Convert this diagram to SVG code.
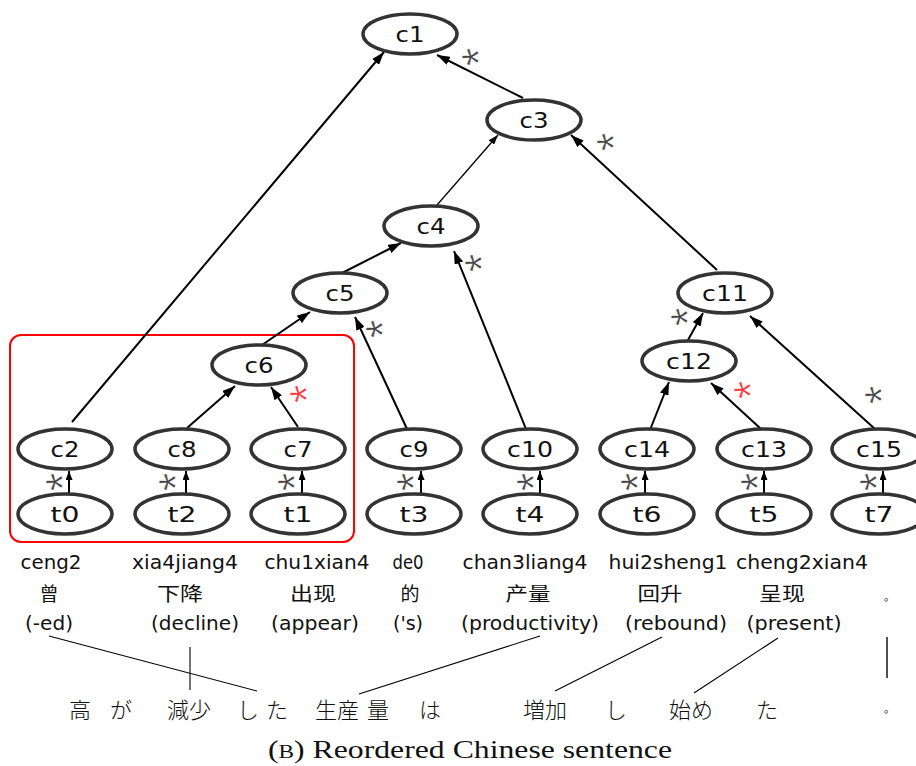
<svg xmlns="http://www.w3.org/2000/svg" width="916" height="766" viewBox="0 0 916 766">
<defs>
<style>
.n ellipse{fill:#fff;stroke:#333;stroke-width:3.5}
.n text{font-family:"DejaVu Sans",sans-serif;font-size:22px;text-anchor:middle;fill:#111}
.e line{stroke:#000;stroke-width:2;marker-end:url(#ah)}
.e line.thin{stroke-width:1.3;marker-end:url(#ahs)}
.e line.up{stroke-width:2;marker-end:url(#ahu)}
.st{font-family:"Liberation Sans",sans-serif;font-size:48px;fill:#444;text-anchor:middle;stroke:#fff;stroke-width:0.7}
.st.r{fill:#f33}
.py{font-family:"DejaVu Sans",sans-serif;font-size:19px;text-anchor:middle;fill:#111}
.zh{font-family:"Noto Sans CJK SC","Noto Sans CJK JP",sans-serif;font-size:19px;text-anchor:middle;fill:#111}
.ja{font-family:"Noto Sans CJK JP",sans-serif;font-size:22px;text-anchor:middle;fill:#111;font-weight:300}
.al line{stroke:#000;stroke-width:1.1}
</style>
<marker id="ah" markerWidth="13" markerHeight="9" refX="13" refY="4.5" orient="auto" markerUnits="userSpaceOnUse"><path d="M0,0 L13,4.5 L0,9 z" fill="#000"/></marker>
<marker id="ahs" markerWidth="10" markerHeight="7" refX="10" refY="3.5" orient="auto" markerUnits="userSpaceOnUse"><path d="M0,0 L10,3.5 L0,7 z" fill="#000"/></marker>
<marker id="ahu" markerWidth="9" markerHeight="7" refX="9" refY="3.5" orient="auto" markerUnits="userSpaceOnUse"><path d="M0,0 L9,3.5 L0,7 z" fill="#000"/></marker>
</defs>
<rect width="916" height="766" fill="#fff"/>
<rect x="10" y="335" width="344" height="207" rx="11" fill="none" stroke="#f00" stroke-width="2"/>
<g id="stars">
<text class="st" transform="translate(495,57) rotate(-90)">*</text>
<text class="st" transform="translate(630,142) rotate(-90)">*</text>
<text class="st" transform="translate(498,263) rotate(-90)">*</text>
<text class="st" transform="translate(399,329) rotate(-90)">*</text>
<text class="st r" transform="translate(323,394) rotate(-90)">*</text>
<text class="st" transform="translate(704,317) rotate(-90)">*</text>
<text class="st r" transform="translate(767,390) rotate(-90)">*</text>
<text class="st" transform="translate(898,395) rotate(-90)">*</text>
<text class="st" transform="translate(79,482) rotate(-90)">*</text>
<text class="st" transform="translate(192,482) rotate(-90)">*</text>
<text class="st" transform="translate(311,482) rotate(-90)">*</text>
<text class="st" transform="translate(430,482) rotate(-90)">*</text>
<text class="st" transform="translate(550,482) rotate(-90)">*</text>
<text class="st" transform="translate(654,482) rotate(-90)">*</text>
<text class="st" transform="translate(774,482) rotate(-90)">*</text>
<text class="st" transform="translate(893,482) rotate(-90)">*</text>
</g>
<g id="connectors" class="e">
<line x1="72" y1="422" x2="384" y2="52"/>
<line x1="523" y1="98" x2="437" y2="55"/>
<line class="thin" x1="437" y1="205" x2="498" y2="135"/>
<line x1="717" y1="270" x2="571" y2="135"/>
<line x1="342" y1="273" x2="401" y2="243"/>
<line x1="526" y1="429" x2="454" y2="251"/>
<line x1="262" y1="345" x2="310" y2="312"/>
<line x1="407" y1="429" x2="355" y2="317"/>
<line x1="187" y1="428" x2="235" y2="386"/>
<line x1="298" y1="427" x2="271" y2="387"/>
<line x1="688" y1="340" x2="703" y2="313"/>
<line x1="650" y1="430" x2="669" y2="382"/>
<line x1="761" y1="429" x2="711" y2="383"/>
<line x1="875" y1="429" x2="750" y2="316"/>
<line class="up" x1="69" y1="493" x2="69" y2="471"/>
<line class="up" x1="186" y1="493" x2="186" y2="471"/>
<line class="up" x1="302" y1="493" x2="302" y2="471"/>
<line class="up" x1="421" y1="493" x2="421" y2="471"/>
<line class="up" x1="540" y1="493" x2="540" y2="471"/>
<line class="up" x1="645" y1="493" x2="645" y2="471"/>
<line class="up" x1="764" y1="493" x2="764" y2="471"/>
<line class="up" x1="883" y1="493" x2="883" y2="471"/>
</g>
<g id="c1" class="n"><ellipse cx="410" cy="34" rx="47" ry="20"/><text x="410" y="42" textLength="29" lengthAdjust="spacingAndGlyphs">c1</text></g>
<g id="c3" class="n"><ellipse cx="534" cy="120" rx="47" ry="20"/><text x="534" y="128" textLength="29" lengthAdjust="spacingAndGlyphs">c3</text></g>
<g id="c4" class="n"><ellipse cx="431" cy="226" rx="47" ry="20"/><text x="431" y="234" textLength="29" lengthAdjust="spacingAndGlyphs">c4</text></g>
<g id="c5" class="n"><ellipse cx="340" cy="293" rx="47" ry="20"/><text x="340" y="301" textLength="29" lengthAdjust="spacingAndGlyphs">c5</text></g>
<g id="c6" class="n"><ellipse cx="259" cy="365" rx="47" ry="20"/><text x="259" y="373" textLength="29" lengthAdjust="spacingAndGlyphs">c6</text></g>
<g id="c11" class="n"><ellipse cx="725" cy="293" rx="47" ry="20"/><text x="725" y="301" textLength="46" lengthAdjust="spacingAndGlyphs">c11</text></g>
<g id="c12" class="n"><ellipse cx="689" cy="361" rx="47" ry="20"/><text x="689" y="369" textLength="46" lengthAdjust="spacingAndGlyphs">c12</text></g>
<g id="c2" class="n"><ellipse cx="65" cy="449" rx="47" ry="20"/><text x="65" y="457" textLength="29" lengthAdjust="spacingAndGlyphs">c2</text></g>
<g id="c8" class="n"><ellipse cx="182" cy="449" rx="47" ry="20"/><text x="182" y="457" textLength="29" lengthAdjust="spacingAndGlyphs">c8</text></g>
<g id="c7" class="n"><ellipse cx="298" cy="449" rx="47" ry="20"/><text x="298" y="457" textLength="29" lengthAdjust="spacingAndGlyphs">c7</text></g>
<g id="c9" class="n"><ellipse cx="414" cy="449" rx="47" ry="20"/><text x="414" y="457" textLength="29" lengthAdjust="spacingAndGlyphs">c9</text></g>
<g id="c10" class="n"><ellipse cx="530" cy="449" rx="47" ry="20"/><text x="530" y="457" textLength="46" lengthAdjust="spacingAndGlyphs">c10</text></g>
<g id="c14" class="n"><ellipse cx="647" cy="449" rx="47" ry="20"/><text x="647" y="457" textLength="46" lengthAdjust="spacingAndGlyphs">c14</text></g>
<g id="c13" class="n"><ellipse cx="764" cy="449" rx="47" ry="20"/><text x="764" y="457" textLength="46" lengthAdjust="spacingAndGlyphs">c13</text></g>
<g id="c15" class="n"><ellipse cx="879" cy="449" rx="47" ry="20"/><text x="879" y="457" textLength="46" lengthAdjust="spacingAndGlyphs">c15</text></g>
<g id="t0" class="n"><ellipse cx="65" cy="514" rx="47" ry="20"/><text x="65" y="522" textLength="29" lengthAdjust="spacingAndGlyphs">t0</text></g>
<g id="t2" class="n"><ellipse cx="182" cy="514" rx="47" ry="20"/><text x="182" y="522" textLength="29" lengthAdjust="spacingAndGlyphs">t2</text></g>
<g id="t1" class="n"><ellipse cx="298" cy="514" rx="47" ry="20"/><text x="298" y="522" textLength="29" lengthAdjust="spacingAndGlyphs">t1</text></g>
<g id="t3" class="n"><ellipse cx="414" cy="514" rx="47" ry="20"/><text x="414" y="522" textLength="29" lengthAdjust="spacingAndGlyphs">t3</text></g>
<g id="t4" class="n"><ellipse cx="530" cy="514" rx="47" ry="20"/><text x="530" y="522" textLength="29" lengthAdjust="spacingAndGlyphs">t4</text></g>
<g id="t6" class="n"><ellipse cx="647" cy="514" rx="47" ry="20"/><text x="647" y="522" textLength="29" lengthAdjust="spacingAndGlyphs">t6</text></g>
<g id="t5" class="n"><ellipse cx="764" cy="514" rx="47" ry="20"/><text x="764" y="522" textLength="29" lengthAdjust="spacingAndGlyphs">t5</text></g>
<g id="t7" class="n"><ellipse cx="879" cy="514" rx="47" ry="20"/><text x="879" y="522" textLength="29" lengthAdjust="spacingAndGlyphs">t7</text></g>
<g id="words">
<text class="py" x="51" y="569" textLength="61" lengthAdjust="spacingAndGlyphs">ceng2</text>
<text class="py" x="185" y="569" textLength="106" lengthAdjust="spacingAndGlyphs">xia4jiang4</text>
<text class="py" x="317" y="569" textLength="105" lengthAdjust="spacingAndGlyphs">chu1xian4</text>
<text class="py" x="408" y="569" textLength="31" lengthAdjust="spacingAndGlyphs">de0</text>
<text class="py" x="525" y="569" textLength="125" lengthAdjust="spacingAndGlyphs">chan3liang4</text>
<text class="py" x="668" y="569" textLength="119" lengthAdjust="spacingAndGlyphs">hui2sheng1</text>
<text class="py" x="802" y="569" textLength="132" lengthAdjust="spacingAndGlyphs">cheng2xian4</text>
<text class="zh" x="49" y="601">曾</text>
<text class="zh" x="180" y="601" textLength="46" lengthAdjust="spacingAndGlyphs">下降</text>
<text class="zh" x="313" y="601" textLength="46" lengthAdjust="spacingAndGlyphs">出现</text>
<text class="zh" x="410" y="601">的</text>
<text class="zh" x="528" y="601" textLength="45" lengthAdjust="spacingAndGlyphs">产量</text>
<text class="zh" x="660" y="601" textLength="45" lengthAdjust="spacingAndGlyphs">回升</text>
<text class="zh" x="782" y="601" textLength="46" lengthAdjust="spacingAndGlyphs">呈现</text>
<text class="zh" x="884" y="601" style="font-size:11px;text-anchor:start">。</text>
<text class="py" x="49" y="630" textLength="48" lengthAdjust="spacingAndGlyphs">(-ed)</text>
<text class="py" x="195" y="630" textLength="88" lengthAdjust="spacingAndGlyphs">(decline)</text>
<text class="py" x="315" y="630" textLength="88" lengthAdjust="spacingAndGlyphs">(appear)</text>
<text class="py" x="408" y="630" textLength="30" lengthAdjust="spacingAndGlyphs">('s)</text>
<text class="py" x="530" y="630" textLength="138" lengthAdjust="spacingAndGlyphs">(productivity)</text>
<text class="py" x="676" y="630" textLength="102" lengthAdjust="spacingAndGlyphs">(rebound)</text>
<text class="py" x="794" y="630" textLength="95" lengthAdjust="spacingAndGlyphs">(present)</text>
</g>
<g id="japanese">
<text class="ja" x="80" y="718">高</text>
<text class="ja" x="121" y="718">が</text>
<text class="ja" x="189" y="718">減少</text>
<text class="ja" x="248" y="718">し</text>
<text class="ja" x="277" y="718">た</text>
<text class="ja" x="337" y="718">生産</text>
<text class="ja" x="378" y="718">量</text>
<text class="ja" x="430" y="718">は</text>
<text class="ja" x="545" y="718">増加</text>
<text class="ja" x="616" y="718">し</text>
<text class="ja" x="691" y="718">始め</text>
<text class="ja" x="767" y="718">た</text>
<text class="zh" x="884" y="713" style="font-size:11px;text-anchor:start">。</text>
</g>
<g id="alignments" class="al">
<line x1="49" y1="636" x2="257" y2="691"/>
<line x1="190" y1="647" x2="190" y2="690"/>
<line x1="359" y1="694" x2="540" y2="636"/>
<line x1="555" y1="691" x2="662" y2="637"/>
<line x1="694" y1="693" x2="778" y2="638"/>
<line x1="887" y1="637" x2="887" y2="678" style="stroke-width:1.6;stroke:#222"/>
</g>
<text x="470" y="758" text-anchor="middle" font-family="'Liberation Serif',serif" font-size="26" fill="#111" textLength="404" lengthAdjust="spacingAndGlyphs">(<tspan font-size="19">B</tspan>) Reordered Chinese sentence</text>
</svg>
